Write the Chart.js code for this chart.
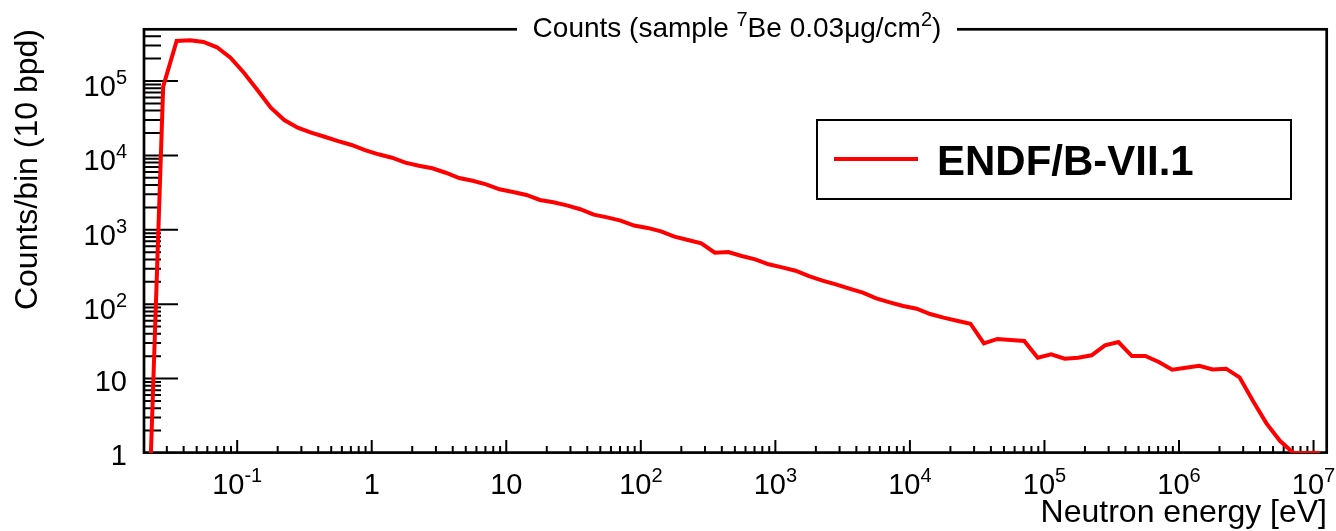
<!DOCTYPE html>
<html>
<head>
<meta charset="utf-8">
<script src="https://cdn.jsdelivr.net/npm/chart.js@4.4.1/dist/chart.umd.min.js"></script>
<style>
  html, body { margin: 0; padding: 0; background: #ffffff; }
  canvas { display: block; }
</style>
</head>
<body>
<canvas id="spectrum" width="1336" height="531"></canvas>
<script>
// Neutron energy at the centre of each bin [eV], 10 bins per decade
const energies = [
  0.02239, 0.02818, 0.03548, 0.04467, 0.05623, 0.07079, 0.08913,
  0.1122, 0.1413, 0.1778, 0.2239, 0.2818, 0.3548, 0.4467, 0.5623, 0.7079, 0.8913,
  1.122, 1.413, 1.778, 2.239, 2.818, 3.548, 4.467, 5.623, 7.079, 8.913,
  11.22, 14.13, 17.78, 22.39, 28.18, 35.48, 44.67, 56.23, 70.79, 89.13,
  112.2, 141.3, 177.8, 223.9, 281.8, 354.8, 446.7, 562.3, 707.9, 891.3,
  1122, 1413, 1778, 2239, 2818, 3548, 4467, 5623, 7079, 8913,
  11220, 14130, 17780, 22390, 28180, 35480, 44670, 56230, 70790, 89130,
  1.122e5, 1.413e5, 1.778e5, 2.239e5, 2.818e5, 3.548e5, 4.467e5, 5.623e5, 7.079e5, 8.913e5,
  1.122e6, 1.413e6, 1.778e6, 2.239e6, 2.818e6, 3.548e6, 4.467e6, 5.623e6, 7.079e6, 8.913e6,
  1.122e7
];

// Counts per bin for the ENDF/B-VII.1 evaluation
const endfCounts = [
  0.33, 8.4e4, 3.45e5, 3.52e5, 3.35e5, 2.84e5, 2.06e5,
  1.29e5, 7.57e4, 4.38e4, 2.99e4, 2.36e4, 2.02e4, 1.78e4, 1.56e4, 1.38e4, 1.18e4,
  10350, 9310, 7980, 7270, 6710, 5850, 4970, 4570, 4090, 3500,
  3220, 2940, 2520, 2340, 2130, 1890, 1600, 1470, 1330, 1140,
  1060, 955, 808, 729, 659, 492, 503, 445, 401, 344,
  313, 282, 239, 207, 185, 162, 143, 120, 106, 94.6,
  87.1, 73.8, 65.9, 60, 54.7, 29.8, 34.1, 33.0, 32.0, 19.1,
  21.2, 18.5, 19.1, 20.6, 28.0, 31.0, 20.1, 20.1, 16.7, 13.2,
  14.0, 14.9, 13.3, 13.6, 10.4, 5.0, 2.5, 1.46, 1, 1,
  1
];

// Labelled decades of each axis: mantissa text and exponent text
const xTickValues = [0.1, 1, 10, 100, 1e3, 1e4, 1e5, 1e6, 1e7];
const xTickBase   = ['10', '1', '10', '10', '10', '10', '10', '10', '10'];
const xTickExp    = ['-1', '', '', '2', '3', '4', '5', '6', '7'];

const yTickValues = [1, 10, 100, 1e3, 1e4, 1e5];
const yTickBase   = ['1', '10', '10', '10', '10', '10'];
const yTickExp    = ['', '', '2', '3', '4', '5'];

const xRange = [Math.pow(10, -1.7), Math.pow(10, 7.1)];
const yRange = [1, 5e5];

const seriesLabel = 'ENDF/B-VII.1';
const FONT = '"Liberation Sans", Arial, Helvetica, sans-serif';

// decade ticks plus the 2..9 minor ticks inside [lo, hi]
function logTicks(lo, hi, labelled) {
  const ticks = [];
  const d0 = Math.floor(Math.log10(lo)), d1 = Math.ceil(Math.log10(hi));
  for (let d = d0; d <= d1; d++) {
    for (let m = 1; m <= 9; m++) {
      const v = m * Math.pow(10, d);
      if (v < lo * 0.999 || v > hi * 1.001) continue;
      ticks.push({ value: v, major: m === 1 && labelled.some(t => Math.abs(t / v - 1) < 1e-6) });
    }
  }
  return ticks;
}

function powerLabel(ctx, base, exp, x, y, align, baseSize, supSize, raise) {
  ctx.font = baseSize + 'px ' + FONT;
  const wb = ctx.measureText(base).width;
  ctx.font = supSize + 'px ' + FONT;
  const we = exp ? ctx.measureText(exp).width : 0;
  const total = wb + we;
  const x0 = align === 'center' ? x - total / 2 : (align === 'right' ? x - total : x);
  ctx.textAlign = 'left';
  ctx.textBaseline = 'alphabetic';
  ctx.font = baseSize + 'px ' + FONT;
  ctx.fillText(base, x0, y);
  if (exp) {
    ctx.font = supSize + 'px ' + FONT;
    ctx.fillText(exp, x0 + wb, y - raise);
  }
}

// frame and inward tick marks, drawn under the histogram line
const framePlugin = {
  id: 'frameTicks',
  beforeDatasetsDraw(chart) {
    const { ctx, chartArea: a, scales: { x, y } } = chart;
    ctx.save();
    ctx.strokeStyle = '#000';
    ctx.lineWidth = 2;
    ctx.beginPath();
    for (const t of x.ticks) {
      const px = x.getPixelForValue(t.value);
      if (px < a.left + 2 || px > a.right - 2) continue;
      const len = t.major ? 13 : 7;
      ctx.moveTo(px, a.bottom);
      ctx.lineTo(px, a.bottom - len);
    }
    for (const t of y.ticks) {
      const py = y.getPixelForValue(t.value);
      if (py < a.top + 2 || py > a.bottom - 2) continue;
      const len = t.major ? 35 : 18;
      ctx.moveTo(a.left, py);
      ctx.lineTo(a.left + len, py);
    }
    ctx.stroke();
    ctx.lineWidth = 2.7;
    ctx.strokeRect(a.left + 1, a.top + 0.3, a.right - a.left - 1.3, a.bottom - a.top - 0.7);
    ctx.restore();
  },
  afterDraw(chart) {
    const { ctx, chartArea: a, scales: { x, y } } = chart;
    ctx.save();
    ctx.fillStyle = '#000';

    // tick labels
    xTickValues.forEach((v, i) => {
      const px = x.getPixelForValue(v);
      powerLabel(ctx, xTickBase[i], xTickExp[i], px, 494, 'center', 29, 20, 12);
    });
    yTickValues.forEach((v, i) => {
      const py = y.getPixelForValue(v);
      const base = py + (yTickExp[i] ? 15 : 12);
      powerLabel(ctx, yTickBase[i], yTickExp[i], 127, base, 'right', 29, 20, 12);
    });

    // axis titles
    ctx.font = '32px ' + FONT;
    ctx.textAlign = 'right';
    ctx.textBaseline = 'alphabetic';
    ctx.fillText('Neutron energy [eV]', a.right, 522);
    ctx.save();
    ctx.translate(37, a.top);
    ctx.rotate(-Math.PI / 2);
    ctx.fillText('Counts/bin (10 bpd)', 0, 0);
    ctx.restore();

    // title on a white box across the top of the frame
    const cx = (a.left + a.right) / 2 + 2;
    ctx.fillStyle = '#fff';
    ctx.fillRect(cx - 220, 10, 440, 36);
    ctx.fillStyle = '#000';
    const parts = [
      ['Counts (sample ', 28, 0], ['7', 20, 11], ['Be 0.03\u03BCg/cm', 28, 0], ['2', 20, 11], [')', 28, 0]
    ];
    let tw = 0;
    for (const p of parts) { ctx.font = p[1] + 'px ' + FONT; tw += ctx.measureText(p[0]).width; }
    let tx = cx - tw / 2;
    ctx.textAlign = 'left';
    for (const p of parts) {
      ctx.font = p[1] + 'px ' + FONT;
      ctx.fillText(p[0], tx, 37 - p[2]);
      tx += ctx.measureText(p[0]).width;
    }

    // legend box
    const ds = chart.data.datasets[0];
    ctx.fillStyle = '#fff';
    ctx.fillRect(817, 120, 474, 79);
    ctx.strokeStyle = '#000';
    ctx.lineWidth = 2;
    ctx.strokeRect(817, 120, 474, 79);
    ctx.strokeStyle = ds.borderColor;
    ctx.lineWidth = 4;
    ctx.beginPath();
    ctx.moveTo(834, 159);
    ctx.lineTo(918, 159);
    ctx.stroke();
    ctx.fillStyle = '#000';
    ctx.font = 'bold 42px ' + FONT;
    ctx.textAlign = 'left';
    ctx.fillText(ds.label, 937, 175);
    ctx.restore();
  }
};

new Chart(document.getElementById('spectrum'), {
  type: 'line',
  data: {
    datasets: [{
      label: seriesLabel,
      data: energies.map((e, i) => ({ x: e, y: endfCounts[i] })),
      borderColor: '#ff0000',
      borderWidth: 4,
      pointRadius: 0,
      tension: 0,
      fill: false
    }]
  },
  options: {
    responsive: false,
    animation: false,
    events: [],
    layout: { padding: { left: 0, right: 9, top: 29, bottom: 0 } },
    scales: {
      x: {
        type: 'logarithmic',
        min: xRange[0],
        max: xRange[1],
        grid: { display: false },
        border: { display: false },
        ticks: { display: false },
        afterBuildTicks(scale) { scale.ticks = logTicks(xRange[0], xRange[1], xTickValues); },
        afterFit(scale) { scale.height = 78; }
      },
      y: {
        type: 'logarithmic',
        min: yRange[0],
        max: yRange[1],
        grid: { display: false },
        border: { display: false },
        ticks: { display: false },
        afterBuildTicks(scale) { scale.ticks = logTicks(yRange[0], yRange[1], yTickValues); },
        afterFit(scale) { scale.width = 143; }
      }
    },
    plugins: {
      legend: { display: false },
      tooltip: { enabled: false },
      title: { display: false }
    }
  },
  plugins: [framePlugin]
});
</script>
</body>
</html>
